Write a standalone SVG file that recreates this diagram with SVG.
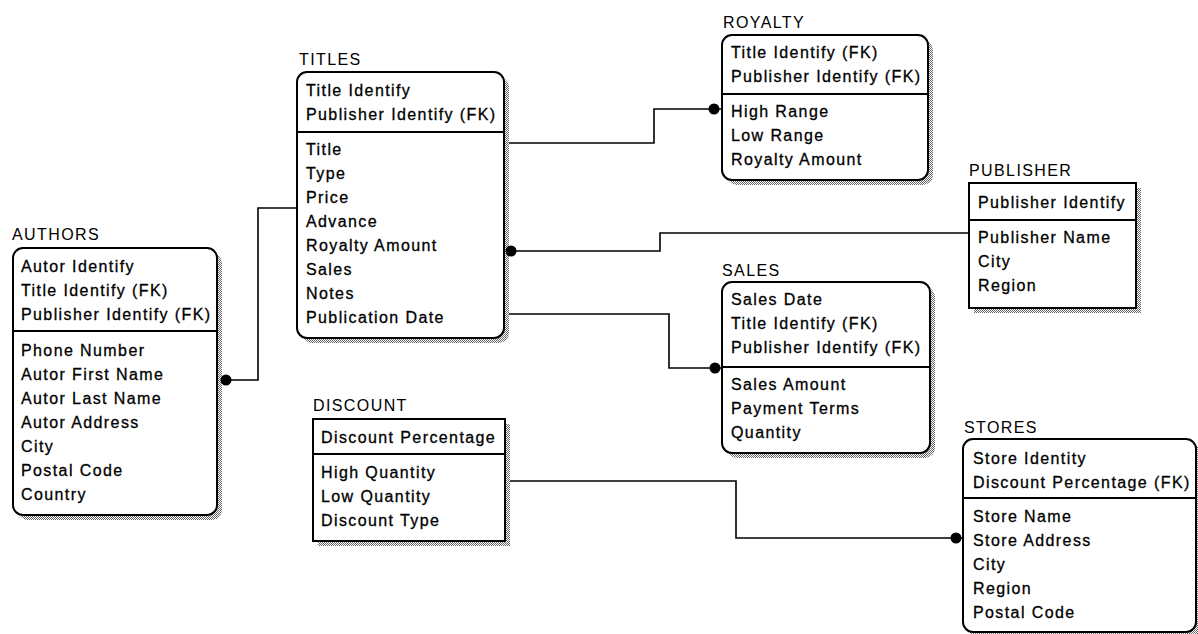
<svg xmlns="http://www.w3.org/2000/svg" width="1198" height="634" viewBox="0 0 1198 634">
<style>
.box{fill:#fff;stroke:#000;stroke-width:2}
.sh{fill:url(#stip)}
.dv{stroke:#000;stroke-width:2}
.t{font-family:"Liberation Sans",Arial,sans-serif;font-size:16px;letter-spacing:1.4px;fill:#000;stroke:#000;stroke-width:0.3}
.h{font-family:"Liberation Sans",Arial,sans-serif;font-size:16px;letter-spacing:1.4px;fill:#000}
.conn{fill:none;stroke:#000;stroke-width:1.6}
.dot{fill:#000}
</style>
<defs>
<pattern id="stip" width="2" height="2" patternUnits="userSpaceOnUse">
<rect width="2" height="2" fill="#fff"/>
<rect width="1" height="1" fill="#666"/>
<rect x="1" y="1" width="1" height="1" fill="#666"/>
</pattern>
</defs>
<rect width="1198" height="634" fill="#fff"/>

<g id="authors">
<rect class="sh" x="18" y="253" width="204" height="267" rx="10"/>
<rect class="box" x="13" y="248" width="204" height="267" rx="10"/>
<line class="dv" x1="13" y1="331" x2="217" y2="331"/>
<text class="h" x="12" y="240">AUTHORS</text>
<text class="t" x="21" y="272">Autor Identify</text>
<text class="t" x="21" y="296">Title Identify (FK)</text>
<text class="t" x="21" y="320">Publisher Identify (FK)</text>
<text class="t" x="21" y="356">Phone Number</text>
<text class="t" x="21" y="380">Autor First Name</text>
<text class="t" x="21" y="404">Autor Last Name</text>
<text class="t" x="21" y="428">Autor Address</text>
<text class="t" x="21" y="452">City</text>
<text class="t" x="21" y="476">Postal Code</text>
<text class="t" x="21" y="500">Country</text>
</g>

<g id="titles">
<rect class="sh" x="302" y="77" width="207" height="266" rx="10"/>
<rect class="box" x="297" y="72" width="207" height="266" rx="10"/>
<line class="dv" x1="297" y1="132" x2="504" y2="132"/>
<text class="h" x="299" y="65">TITLES</text>
<text class="t" x="306" y="96">Title Identify</text>
<text class="t" x="306" y="120">Publisher Identify (FK)</text>
<text class="t" x="306" y="155">Title</text>
<text class="t" x="306" y="179">Type</text>
<text class="t" x="306" y="203">Price</text>
<text class="t" x="306" y="227">Advance</text>
<text class="t" x="306" y="251">Royalty Amount</text>
<text class="t" x="306" y="275">Sales</text>
<text class="t" x="306" y="299">Notes</text>
<text class="t" x="306" y="323">Publication Date</text>
</g>

<g id="royalty">
<rect class="sh" x="727" y="40" width="206" height="145" rx="10"/>
<rect class="box" x="722" y="35" width="206" height="145" rx="10"/>
<line class="dv" x1="722" y1="94" x2="928" y2="94"/>
<text class="h" x="723" y="28">ROYALTY</text>
<text class="t" x="731" y="58">Title Identify (FK)</text>
<text class="t" x="731" y="82">Publisher Identify (FK)</text>
<text class="t" x="731" y="117">High Range</text>
<text class="t" x="731" y="141">Low Range</text>
<text class="t" x="731" y="165">Royalty Amount</text>
</g>

<g id="publisher">
<rect class="sh" x="974" y="188" width="167" height="125"/>
<rect class="box" x="969" y="183" width="167" height="125"/>
<line class="dv" x1="969" y1="220" x2="1136" y2="220"/>
<text class="h" x="969" y="176">PUBLISHER</text>
<text class="t" x="978" y="208">Publisher Identify</text>
<text class="t" x="978" y="243">Publisher Name</text>
<text class="t" x="978" y="267">City</text>
<text class="t" x="978" y="291">Region</text>
</g>

<g id="sales">
<rect class="sh" x="727" y="287" width="208" height="171" rx="10"/>
<rect class="box" x="722" y="282" width="208" height="171" rx="10"/>
<line class="dv" x1="722" y1="367" x2="930" y2="367"/>
<text class="h" x="722" y="276">SALES</text>
<text class="t" x="731" y="305">Sales Date</text>
<text class="t" x="731" y="329">Title Identify (FK)</text>
<text class="t" x="731" y="353">Publisher Identify (FK)</text>
<text class="t" x="731" y="390">Sales Amount</text>
<text class="t" x="731" y="414">Payment Terms</text>
<text class="t" x="731" y="438">Quantity</text>
</g>

<g id="discount">
<rect class="sh" x="318" y="424" width="192" height="122"/>
<rect class="box" x="313" y="419" width="192" height="122"/>
<line class="dv" x1="313" y1="454" x2="505" y2="454"/>
<text class="h" x="313" y="411">DISCOUNT</text>
<text class="t" x="321" y="443">Discount Percentage</text>
<text class="t" x="321" y="478">High Quantity</text>
<text class="t" x="321" y="502">Low Quantity</text>
<text class="t" x="321" y="526">Discount Type</text>
</g>

<g id="stores">
<rect class="sh" x="968" y="444" width="233" height="193" rx="10"/>
<rect class="box" x="963" y="439" width="233" height="193" rx="10"/>
<line class="dv" x1="963" y1="498" x2="1196" y2="498"/>
<text class="h" x="964" y="433">STORES</text>
<text class="t" x="973" y="464">Store Identity</text>
<text class="t" x="973" y="488">Discount Percentage (FK)</text>
<text class="t" x="973" y="522">Store Name</text>
<text class="t" x="973" y="546">Store Address</text>
<text class="t" x="973" y="570">City</text>
<text class="t" x="973" y="594">Region</text>
<text class="t" x="973" y="618">Postal Code</text>
</g>

<g id="connectors">
<path class="conn" d="M226 380H258V208H297"/>
<circle class="dot" cx="226" cy="380" r="5.5"/>
<path class="conn" d="M509 143H654V109H722"/>
<circle class="dot" cx="714" cy="109" r="5.5"/>
<path class="conn" d="M511 251H660V233H969"/>
<circle class="dot" cx="511" cy="251" r="5.5"/>
<path class="conn" d="M509 314H669V368H722"/>
<circle class="dot" cx="715" cy="368" r="5.5"/>
<path class="conn" d="M510 481H736V538H963"/>
<circle class="dot" cx="956" cy="538" r="5.5"/>
</g>
</svg>
